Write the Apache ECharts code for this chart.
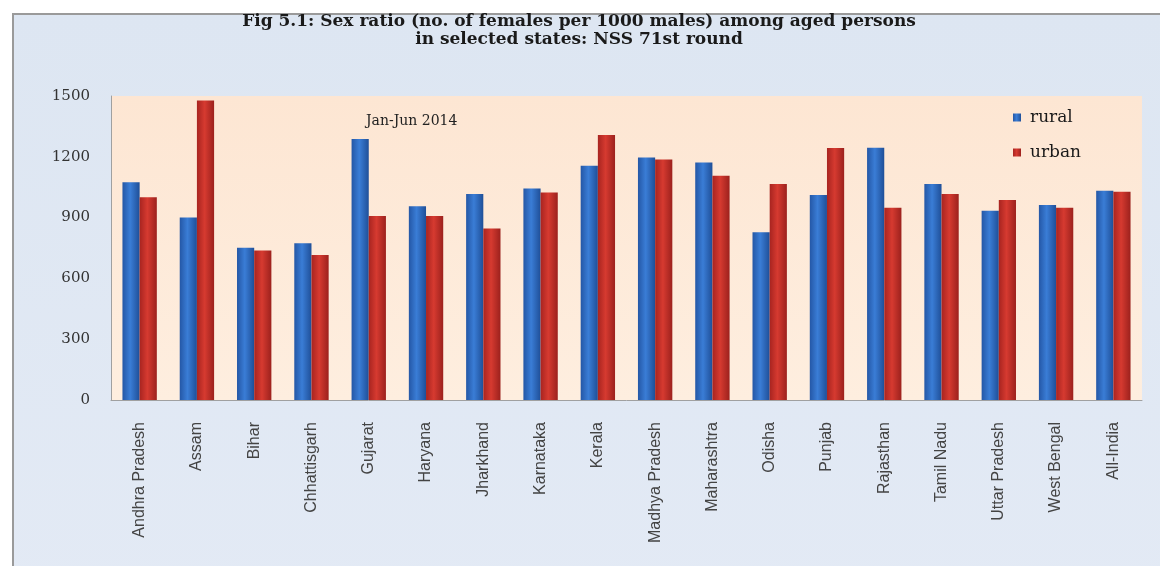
<!DOCTYPE html>
<html>
<head>
<meta charset="utf-8">
<script src="https://cdn.jsdelivr.net/npm/echarts@6/dist/echarts.min.js"></script>
<style>
html,body{margin:0;padding:0;background:#fff;}
#chart{width:1160px;height:566px;}
</style>
</head>
<body>
<div id="chart"></div>
<script>
var categories = ['Andhra Pradesh','Assam','Bihar','Chhattisgarh','Gujarat','Haryana','Jharkhand','Karnataka','Kerala','Madhya Pradesh','Maharashtra','Odisha','Punjab','Rajasthan','Tamil Nadu','Uttar Pradesh','West Bengal','All-India'];
var rural = [1074, 901, 751, 774, 1288, 956, 1017, 1044, 1156, 1197, 1172, 828, 1012, 1245, 1066, 934, 962, 1033];
var urban = [1000, 1478, 738, 715, 908, 908, 846, 1024, 1307, 1187, 1107, 1066, 1243, 949, 1017, 987, 948, 1028];
var yTicks = [0, 300, 600, 900, 1200, 1500];
var titleText = 'Fig 5.1: Sex ratio (no. of females per 1000 males) among aged persons\nin selected states: NSS 71st round';
var periodText = 'Jan-Jun 2014';

function barGrad(c1, c2, c3) {
  return new echarts.graphic.LinearGradient(0, 0, 1, 0, [
    {offset: 0, color: c1}, {offset: 0.45, color: c2}, {offset: 1, color: c3}
  ]);
}

var chart = echarts.init(document.getElementById('chart'));
chart.setOption({
  backgroundColor: '#ffffff',
  animation: false,
  graphic: [
    {
      type: 'rect', z: -100, silent: true,
      shape: {x: 13, y: 14, width: 1160, height: 600},
      style: {
        fill: new echarts.graphic.LinearGradient(0, 0, 0, 1, [
          {offset: 0, color: '#dde6f2'}, {offset: 1, color: '#e3eaf5'}
        ]),
        stroke: '#9a9a9a', lineWidth: 2
      }
    },
    {
      type: 'text', left: 366, top: 114,
      style: {text: periodText, font: '14px "DejaVu Serif"', fill: '#222'}
    }
  ],
  title: {
    text: titleText,
    left: 574, top: 8, textAlign: 'center',
    textStyle: {fontFamily: 'DejaVu Serif', fontWeight: 'bold', fontSize: 17, lineHeight: 18, color: '#1a1a1a'}
  },
  legend: {
    orient: 'vertical', left: 1008, top: 104,
    itemWidth: 8, itemHeight: 8, itemGap: 18, icon: 'rect',
    textStyle: {fontFamily: 'DejaVu Serif', fontSize: 17, color: '#1a1a1a', padding: [0, 0, 0, 4]},
    data: ['rural', 'urban']
  },
  grid: {
    left: 111, right: 18, top: 96, bottom: 166,
    show: true, borderWidth: 0,
    backgroundColor: new echarts.graphic.LinearGradient(0, 0, 0, 1, [
      {offset: 0, color: '#fde6d3'}, {offset: 1, color: '#feeedf'}
    ])
  },
  xAxis: {
    type: 'category', data: categories,
    axisLine: {show: true, lineStyle: {color: '#a0a0a0', width: 1}},
    axisTick: {show: false},
    axisLabel: {rotate: 90, margin: 22, fontFamily: 'Liberation Sans', fontSize: 16, color: '#444', interval: 0}
  },
  yAxis: {
    type: 'value', min: 0, max: 1500, interval: 300,
    axisLine: {show: true, lineStyle: {color: '#a0a0a0', width: 1}},
    axisTick: {show: false},
    splitLine: {show: false},
    axisLabel: {margin: 21, fontFamily: 'DejaVu Serif', fontSize: 15, color: '#333',
      formatter: function (v) { return yTicks.indexOf(v) >= 0 ? String(v) : ''; }}
  },
  series: [
    {
      name: 'rural', type: 'bar', data: rural,
      barCategoryGap: '40%', barGap: '0%',
      itemStyle: {color: barGrad('#2457a6', '#3a7dd6', '#1f4f98')}
    },
    {
      name: 'urban', type: 'bar', data: urban,
      barCategoryGap: '40%', barGap: '0%',
      itemStyle: {color: barGrad('#a82420', '#d63a30', '#9c211d')}
    }
  ]
});
</script>
</body>
</html>
